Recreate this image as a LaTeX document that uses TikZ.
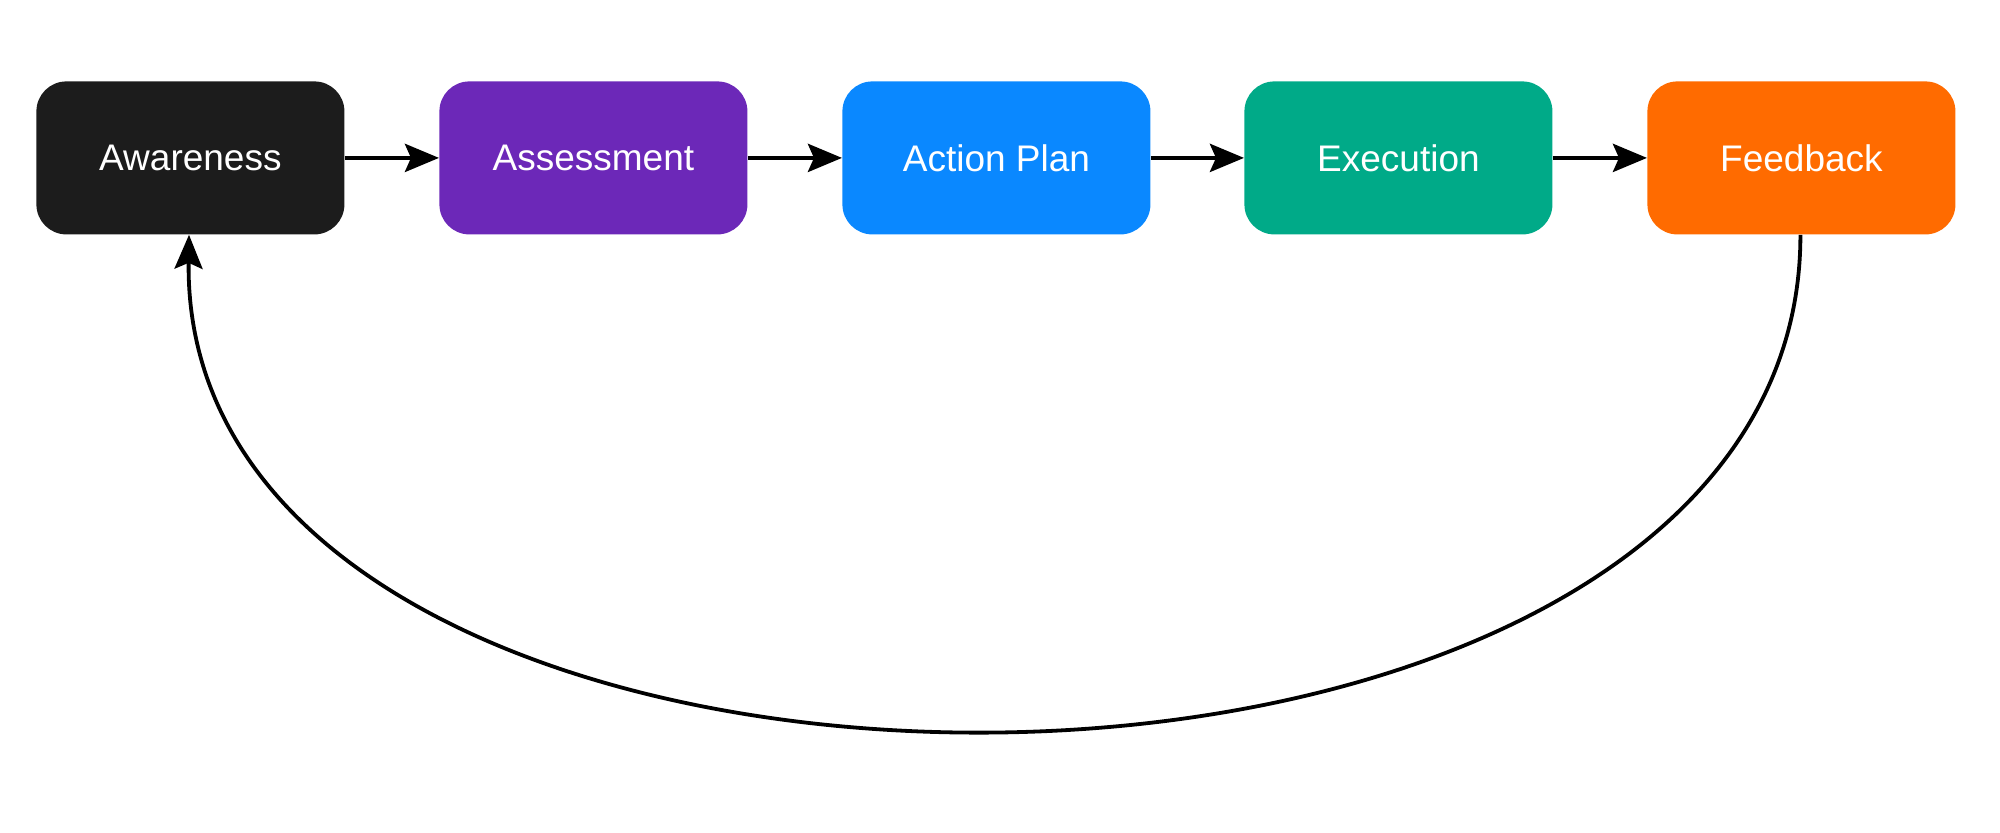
\documentclass[tikz,border=0pt]{standalone}
\usepackage{fontspec}
\setmainfont{Liberation Sans}
\usetikzlibrary{arrows.meta}
\definecolor{cAw}{HTML}{1C1C1C}
\definecolor{cAs}{HTML}{6C28B8}
\definecolor{cAp}{HTML}{0A88FF}
\definecolor{cEx}{HTML}{00AA88}
\definecolor{cFb}{HTML}{FF6B00}
\tikzset{
  stage/.style={draw=none, rounded corners=15pt, minimum width=154pt, minimum height=76.5pt,
    inner sep=0pt, text=white, font=\fontsize{18.5}{22}\selectfont, anchor=north west},
  flow/.style={line width=2.3pt, -{Stealth[length=17pt,width=14pt,inset=3pt]}},
  back/.style={line width=1.9pt, -{Stealth[length=17pt,width=14pt,inset=3pt]}}
}
\begin{document}
\begin{tikzpicture}[x=0.5pt,y=-0.5pt]
\useasboundingbox (0,0) rectangle (2000,832);
\node[stage, fill=cAw] (aw) at (36,81) {Awareness};
\node[stage, fill=cAs] (as) at (439,81) {Assessment};
\node[stage, fill=cAp] (ap) at (842,81) {Action Plan};
\node[stage, fill=cEx] (ex) at (1244,81) {Execution};
\node[stage, fill=cFb] (fb) at (1647,81) {Feedback};
\draw[flow] (aw.east) -- (as.west);
\draw[flow] (as.east) -- (ap.west);
\draw[flow] (ap.east) -- (ex.west);
\draw[flow] (ex.east) -- (fb.west);
\draw[back] ([xshift=-0.5pt]fb.south) .. controls (1801,894) and (180,894) .. (aw.south -| 189,0);
\end{tikzpicture}
\end{document}
